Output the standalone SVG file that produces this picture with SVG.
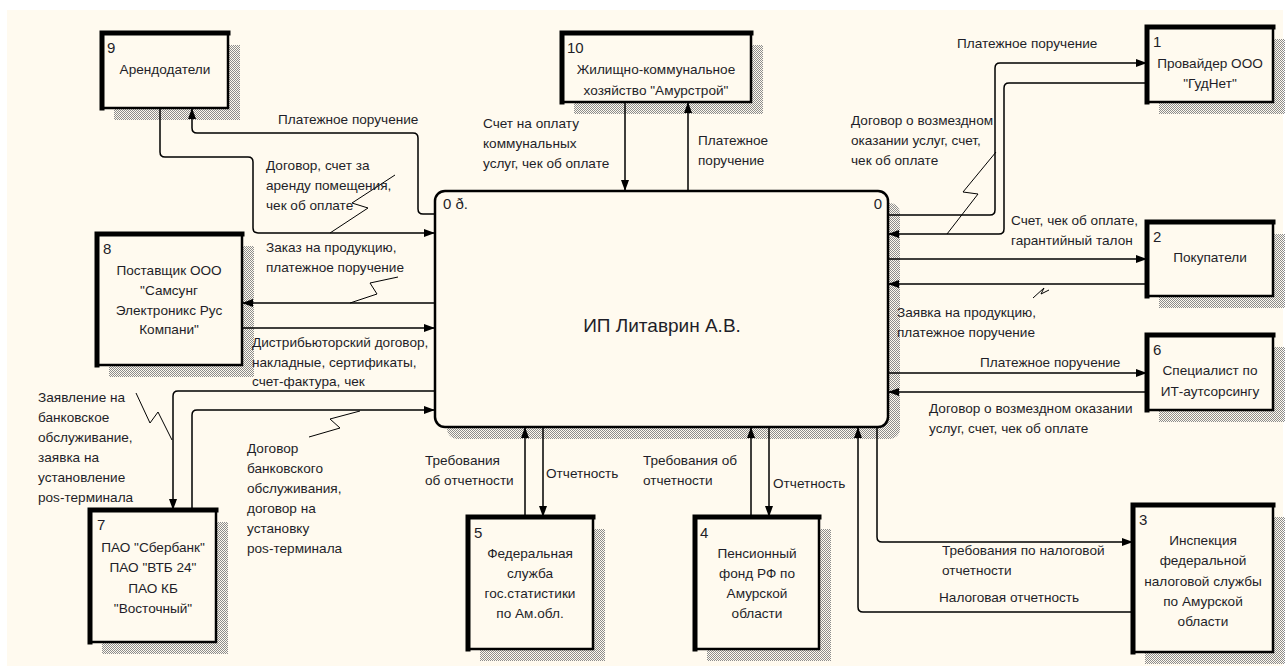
<svg xmlns="http://www.w3.org/2000/svg" width="1288" height="670" viewBox="0 0 1288 670">
<style>
  .bg { fill: #FFFAEF; }
  .hatch { fill: url(#dots); }
  .box { fill: #FFFAEF; stroke: #000; stroke-width: 2.5; }
  .thick { fill: none; stroke: #000; stroke-width: 5; stroke-linecap: square; }
  .main { fill: #FFFAEF; stroke: #000; stroke-width: 2.5; }
  .t { font-family: "Liberation Sans", Arial, sans-serif; font-size: 13.6px; fill: #1e1e28; }
  .n { font-family: "Liberation Sans", Arial, sans-serif; font-size: 15px; fill: #1e1e28; }
  .c { text-anchor: middle; }
  .big { font-family: "Liberation Sans", Arial, sans-serif; font-size: 19px; fill: #1e1e28; text-anchor: middle; }
  .conn path { fill: none; stroke: #000; stroke-width: 1.5; }
  .conn path.arr { marker-end: url(#ah); }
  .conn polyline { fill: none; stroke: #000; stroke-width: 1; }
</style>
<defs>
  <pattern id="dots" width="2" height="2" patternUnits="userSpaceOnUse">
    <rect x="0" y="0" width="1" height="1" fill="#8c8c8c"/>
    <rect x="1" y="1" width="1" height="1" fill="#8c8c8c"/>
  </pattern>
  <marker id="ah" viewBox="0 0 11 8" refX="11" refY="4" markerWidth="11" markerHeight="8" markerUnits="userSpaceOnUse" orient="auto">
    <path d="M0,0 L11,4 L0,8 z" fill="#000"/>
  </marker>
</defs>
<rect x="0" y="0" width="1288" height="670" fill="#ffffff"/>
<rect class="bg" x="7" y="10" width="1276" height="656"/>

<!-- main node -->
<g id="node0">
  <rect class="hatch" x="447" y="203" width="453" height="236" rx="10"/>
  <rect class="main" x="435" y="191" width="453" height="236" rx="10"/>
  <text class="n" x="443" y="209">0 ð.</text>
  <text class="n" x="882" y="209" text-anchor="end">0</text>
  <text class="big" x="662" y="332">ИП Литаврин А.В.</text>
</g>

<g id="node9">
  <rect class="hatch" x="114" y="45" width="126" height="75"/>
  <rect class="box" x="102" y="33" width="126" height="75"/>
  <path class="thick" d="M102,108 V33 H228"/>
  <text class="n" x="107" y="53">9</text>
  <text class="t c" x="165" y="74">Арендодатели</text>
</g>

<g id="node10">
  <rect class="hatch" x="574" y="45" width="189" height="69"/>
  <rect class="box" x="562" y="33" width="189" height="69"/>
  <path class="thick" d="M562,102 V33 H751"/>
  <text class="n" x="567" y="53">10</text>
  <text class="t c" x="656" y="74">Жилищно-коммунальное</text>
  <text class="t c" x="656" y="95">хозяйство "Амурстрой"</text>
</g>

<g id="node1">
  <rect class="hatch" x="1159" y="39" width="126" height="75"/>
  <rect class="box" x="1147" y="27" width="126" height="75"/>
  <path class="thick" d="M1147,102 V27 H1273"/>
  <text class="n" x="1153" y="47">1</text>
  <text class="t c" x="1210" y="68">Провайдер ООО</text>
  <text class="t c" x="1210" y="88">"ГудНет"</text>
</g>

<g id="node2">
  <rect class="hatch" x="1159" y="234" width="126" height="74"/>
  <rect class="box" x="1147" y="222" width="126" height="74"/>
  <path class="thick" d="M1147,296 V222 H1273"/>
  <text class="n" x="1153" y="242">2</text>
  <text class="t c" x="1210" y="262">Покупатели</text>
</g>

<g id="node6">
  <rect class="hatch" x="1159" y="347" width="126" height="75"/>
  <rect class="box" x="1147" y="335" width="126" height="75"/>
  <path class="thick" d="M1147,410 V335 H1273"/>
  <text class="n" x="1153" y="355">6</text>
  <text class="t c" x="1210" y="375">Специалист по</text>
  <text class="t c" x="1210" y="396">ИТ-аутсорсингу</text>
</g>

<g id="node8">
  <rect class="hatch" x="109" y="246" width="145" height="131"/>
  <rect class="box" x="97" y="234" width="145" height="131"/>
  <path class="thick" d="M97,365 V234 H242"/>
  <text class="n" x="103" y="254">8</text>
  <text class="t c" x="169" y="275">Поставщик ООО</text>
  <text class="t c" x="169" y="295">"Самсунг</text>
  <text class="t c" x="169" y="315">Электроникс Рус</text>
  <text class="t c" x="169" y="334">Компани"</text>
</g>

<g id="node7">
  <rect class="hatch" x="102" y="522" width="126" height="132"/>
  <rect class="box" x="90" y="510" width="126" height="132"/>
  <path class="thick" d="M90,642 V510 H216"/>
  <text class="n" x="97" y="530">7</text>
  <text class="t c" x="153" y="552">ПАО "Сбербанк"</text>
  <text class="t c" x="153" y="572">ПАО "ВТБ 24"</text>
  <text class="t c" x="153" y="593">ПАО КБ</text>
  <text class="t c" x="153" y="613">"Восточный"</text>
</g>

<g id="node5">
  <rect class="hatch" x="480" y="529" width="125" height="132"/>
  <rect class="box" x="468" y="517" width="125" height="132"/>
  <path class="thick" d="M468,649 V517 H593"/>
  <text class="n" x="474" y="538">5</text>
  <text class="t c" x="530" y="558">Федеральная</text>
  <text class="t c" x="530" y="578">служба</text>
  <text class="t c" x="530" y="598">гос.статистики</text>
  <text class="t c" x="530" y="618">по Ам.обл.</text>
</g>

<g id="node4">
  <rect class="hatch" x="707" y="529" width="124" height="132"/>
  <rect class="box" x="695" y="517" width="124" height="132"/>
  <path class="thick" d="M695,649 V517 H819"/>
  <text class="n" x="700" y="538">4</text>
  <text class="t c" x="757" y="558">Пенсионный</text>
  <text class="t c" x="757" y="578">фонд РФ по</text>
  <text class="t c" x="757" y="598">Амурской</text>
  <text class="t c" x="757" y="618">области</text>
</g>

<g id="node3">
  <rect class="hatch" x="1145" y="517" width="140" height="147"/>
  <rect class="box" x="1133" y="505" width="140" height="147"/>
  <path class="thick" d="M1133,652 V505 H1273"/>
  <text class="n" x="1139" y="525">3</text>
  <text class="t c" x="1203" y="545">Инспекция</text>
  <text class="t c" x="1203" y="565">федеральной</text>
  <text class="t c" x="1203" y="586">налоговой службы</text>
  <text class="t c" x="1203" y="606">по Амурской</text>
  <text class="t c" x="1203" y="626">области</text>
</g>

<g id="connectors" class="conn">
  <path class="arr" d="M160,108 V152 Q160,157 165,157 H248 Q253,157 253,162 V228 Q253,233 258,233 H435"/>
  <path class="arr" d="M435,214 H423 Q418,214 418,209 V138 Q418,133 413,133 H197 Q192,133 192,128 V108"/>
  <path class="arr" d="M435,303 H242"/>
  <path class="arr" d="M242,328 H435"/>
  <path class="arr" d="M435,391 H178 Q173,391 173,396 V510"/>
  <path class="arr" d="M192,510 V415 Q192,410 197,410 H435"/>
  <path class="arr" d="M625,102 V191"/>
  <path class="arr" d="M688,191 V102"/>
  <path class="arr" d="M888,215 H990 Q995,215 995,210 V68 Q995,63 1000,63 H1147"/>
  <path class="arr" d="M1147,83 H1009 Q1004,83 1004,88 V229 Q1004,234 999,234 H888"/>
  <path class="arr" d="M888,259 H1147"/>
  <path class="arr" d="M1147,284 H888"/>
  <path class="arr" d="M888,373 H1147"/>
  <path class="arr" d="M1147,392 H888"/>
  <path class="arr" d="M525,517 V427"/>
  <path class="arr" d="M543,427 V517"/>
  <path class="arr" d="M751,517 V427"/>
  <path class="arr" d="M769,427 V517"/>
  <path class="arr" d="M1133,612 H863 Q858,612 858,607 V427"/>
  <path class="arr" d="M877,427 V537 Q877,542 882,542 H1133"/>
  <polyline points="395,175 352,203 368,208 330,233"/>
  <polyline points="398,277 370,283 377,294 350,303"/>
  <polyline points="136,393 150,423 158,412 172,440"/>
  <polyline points="309,437 340,428 330,419 360,411"/>
  <polyline points="996,152 963,192 978,194 947,234"/>
  <polyline points="1033,298 1044,288 1041,294 1049,290"/>
</g>

<g id="labels">
  <text class="t" x="278" y="124">Платежное поручение</text>
  <text class="t" x="266" y="170">Договор, счет за</text>
  <text class="t" x="266" y="190">аренду помещения,</text>
  <text class="t" x="266" y="210">чек об оплате</text>
  <text class="t" x="266" y="252">Заказ на продукцию,</text>
  <text class="t" x="266" y="272">платежное поручение</text>
  <text class="t" x="252" y="347">Дистрибьюторский договор,</text>
  <text class="t" x="252" y="367">накладные, сертификаты,</text>
  <text class="t" x="252" y="386">счет-фактура, чек</text>
  <text class="t" x="38" y="402">Заявление на</text>
  <text class="t" x="38" y="422">банковское</text>
  <text class="t" x="38" y="442">обслуживание,</text>
  <text class="t" x="38" y="462">заявка на</text>
  <text class="t" x="38" y="482">установление</text>
  <text class="t" x="38" y="502">pos-терминала</text>
  <text class="t" x="247" y="453">Договор</text>
  <text class="t" x="247" y="473">банковского</text>
  <text class="t" x="247" y="493">обслуживания,</text>
  <text class="t" x="247" y="513">договор на</text>
  <text class="t" x="247" y="533">установку</text>
  <text class="t" x="247" y="553">pos-терминала</text>
  <text class="t" x="483" y="128">Счет на оплату</text>
  <text class="t" x="483" y="148">коммунальных</text>
  <text class="t" x="483" y="168">услуг, чек об оплате</text>
  <text class="t" x="698" y="145">Платежное</text>
  <text class="t" x="698" y="165">поручение</text>
  <text class="t" x="957" y="48">Платежное поручение</text>
  <text class="t" x="851" y="125">Договор о возмездном</text>
  <text class="t" x="851" y="145">оказании услуг, счет,</text>
  <text class="t" x="851" y="165">чек об оплате</text>
  <text class="t" x="1011" y="225">Счет, чек об оплате,</text>
  <text class="t" x="1011" y="245">гарантийный талон</text>
  <text class="t" x="897" y="317">Заявка на продукцию,</text>
  <text class="t" x="897" y="337">платежное поручение</text>
  <text class="t" x="980" y="367">Платежное поручение</text>
  <text class="t" x="929" y="413">Договор о возмездном оказании</text>
  <text class="t" x="929" y="433">услуг, счет, чек об оплате</text>
  <text class="t" x="425" y="465">Требования</text>
  <text class="t" x="425" y="485">об отчетности</text>
  <text class="t" x="546" y="478">Отчетность</text>
  <text class="t" x="643" y="465">Требования об</text>
  <text class="t" x="643" y="485">отчетности</text>
  <text class="t" x="773" y="488">Отчетность</text>
  <text class="t" x="942" y="555">Требования по налоговой</text>
  <text class="t" x="942" y="575">отчетности</text>
  <text class="t" x="939" y="602">Налоговая отчетность</text>
</g>
</svg>
